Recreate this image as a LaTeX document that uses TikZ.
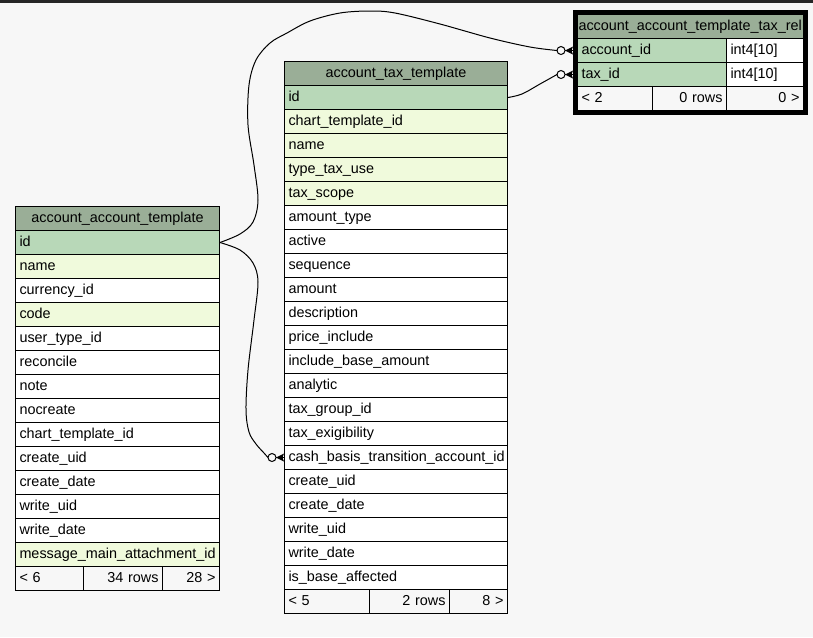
\documentclass[tikz,border=0pt]{standalone}
\usepackage{fontspec}
\setmainfont{Liberation Sans}
\usetikzlibrary{calc,fit}
\definecolor{bg}{HTML}{F7F7F7}
\definecolor{hd}{HTML}{9AAE97}
\definecolor{pk}{HTML}{B8D8B8}
\definecolor{ix}{HTML}{F0FADC}
\definecolor{topbar}{HTML}{262626}
\tikzset{
  cell/.style={draw=black, line width=0.75pt, anchor=north west, minimum height=18pt,
    inner xsep=3pt, inner ysep=0pt, text height=8pt, text depth=2.2pt,
    font=\fontsize{10.8}{12}\selectfont},
  conn/.style={draw=black, line width=0.75pt},
}
\newcommand\tcell[7]{%
  \pgfmathsetmacro\cw{#4*0.75}%
  \pgfmathsetmacro\tw{(#4-8)*0.75}%
  \node[cell, fill=#5, minimum width=\cw pt, text width=\tw pt, align=#6] (#1) at (#2,#3) {#7};%
}
\newcommand\crowodot[1]{%
  \draw[conn, fill=bg] ($(#1)+(-12,0)$) circle[radius=4];
  \fill ($(#1)+(-8,0)$) -- ($(#1)+(0,-4)$) -- ($(#1)+(-1.5,0)$) -- ($(#1)+(0,4)$) -- cycle;
  \draw[conn] ($(#1)+(-8,0)$) -- (#1);
}
\begin{document}
\begin{tikzpicture}[x=0.75pt, y=-0.75pt]
\useasboundingbox (0,0) rectangle (813,637);
\fill[bg] (0,0) rectangle (813,637);
\fill[topbar] (0,0) rectangle (813,2.5);

% ---------- account_account_template ----------
\tcell{L-h}{15}{206}{204}{hd}{center}{account\_account\_template}
\foreach \nm/\fl [count=\i] in {id/pk, name/ix, currency\_id/white, code/ix, user\_type\_id/white,
  reconcile/white, note/white, nocreate/white, chart\_template\_id/white, create\_uid/white,
  create\_date/white, write\_uid/white, write\_date/white, message\_main\_attachment\_id/ix}{
  \pgfmathsetmacro\yy{230+24*(\i-1)}
  \tcell{L-\i}{15}{\yy}{204}{\fl}{left}{\nm}
}
\tcell{L-f1}{15}{566}{68}{bg}{left}{< 6}
\tcell{L-f2}{83}{566}{79}{bg}{right}{34 rows}
\tcell{L-f3}{162}{566}{57}{bg}{right}{28 >}

% ---------- account_tax_template ----------
\tcell{M-h}{284}{61}{223}{hd}{center}{account\_tax\_template}
\foreach \nm/\fl [count=\i] in {id/pk, chart\_template\_id/ix, name/ix, type\_tax\_use/ix, tax\_scope/ix,
  amount\_type/white, active/white, sequence/white, amount/white, description/white,
  price\_include/white, include\_base\_amount/white, analytic/white, tax\_group\_id/white,
  tax\_exigibility/white, cash\_basis\_transition\_account\_id/white, create\_uid/white,
  create\_date/white, write\_uid/white, write\_date/white, is\_base\_affected/white}{
  \pgfmathsetmacro\yy{85+24*(\i-1)}
  \tcell{M-\i}{284}{\yy}{223}{\fl}{left}{\nm}
}
\tcell{M-f1}{284}{589}{85}{bg}{left}{< 5}
\tcell{M-f2}{369}{589}{80}{bg}{right}{2 rows}
\tcell{M-f3}{449}{589}{58}{bg}{right}{8 >}

% ---------- account_account_template_tax_rel ----------
\node[cell, fill=hd, minimum width=169.5pt, text width=168pt, inner xsep=0.75pt, align=left]
  (R-h) at (577,14) {account\_account\_template\_tax\_rel};
\tcell{R-1a}{577}{38}{149}{pk}{left}{account\_id}
\tcell{R-1b}{726}{38}{77}{white}{left}{int4[10]}
\tcell{R-2a}{577}{62}{149}{pk}{left}{tax\_id}
\tcell{R-2b}{726}{62}{77}{white}{left}{int4[10]}
\tcell{R-f1}{577}{86}{75}{bg}{left}{< 2}
\tcell{R-f2}{652}{86}{74}{bg}{right}{0 rows}
\tcell{R-f3}{726}{86}{77}{bg}{right}{0 >}
\node[draw=black, line width=3pt, fit=(R-h)(R-f3), inner sep=1.5pt] (R) {};

% ---------- connectors ----------
\coordinate (e1) at ($(R-1a.west)+(-4,0)$);
\coordinate (e2) at ($(R-2a.west)+(-4,0)$);
\coordinate (e3) at (M-16.west);
\coordinate (c1) at ($(e1)+(-16,0)$);
\coordinate (c2) at ($(e2)+(-16,0)$);
\coordinate (c3) at ($(e3)+(-16,0)$);

\draw[conn] plot[smooth, tension=0.55] coordinates {(L-1.east) (240,234) (253,222) (258,200)
  (254,165) (248,125) (249,85) (256,60) (270,43) (287,33) (310,21) (340,13) (370,11) (395,13)
  (440,24) (490,38) (530,47) (c1)};
\draw[conn] plot[smooth, tension=0.55] coordinates {(L-1.east) (240,250) (253,263) (258,282)
  (254,320) (248,370) (246,410) (249,432) (256,444) (264,453) (c3)};
\draw[conn] plot[smooth, tension=0.55] coordinates {(M-1.east) (522,94) (540,84) (c2)};

\crowodot{e1}
\crowodot{e2}
\crowodot{e3}
\end{tikzpicture}
\end{document}
